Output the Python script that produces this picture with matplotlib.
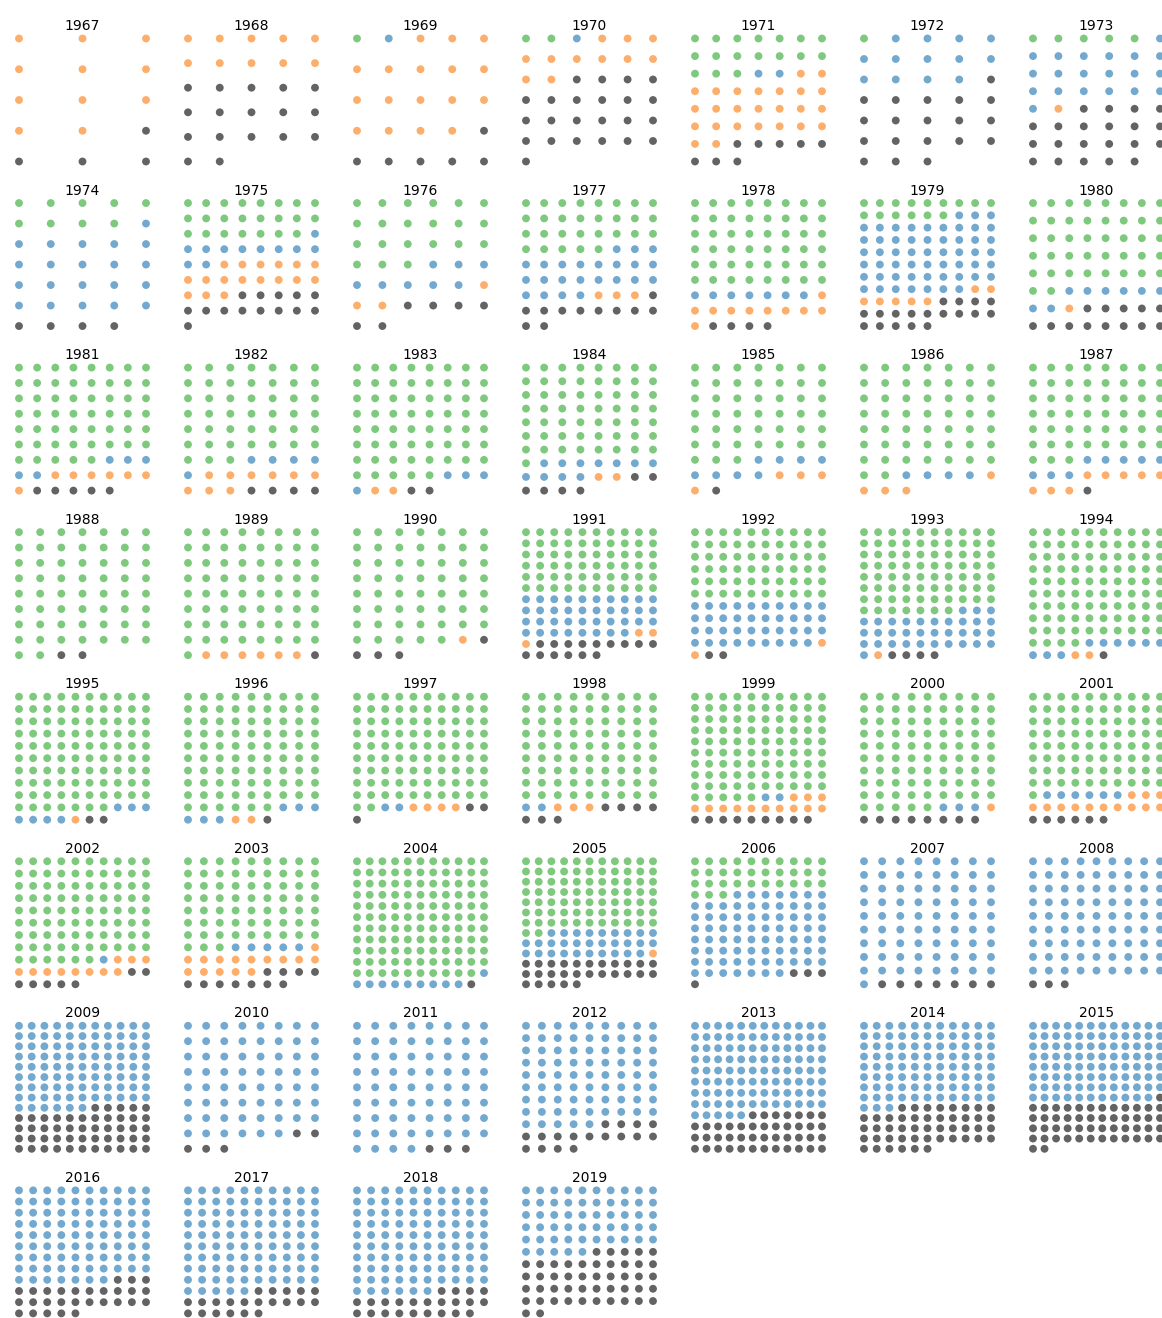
import math
import matplotlib
matplotlib.use("Agg")
import matplotlib.pyplot as plt

years = list(range(1967, 2020))
green = [0, 0, 1, 2, 17, 1, 5, 9, 23, 21, 29, 48, 15, 42,
         53, 45, 61, 57, 45, 51, 51, 58, 65, 54, 60, 60, 77, 94,
         97, 87, 92, 81, 95, 86, 81, 86, 66, 120, 79, 33, 0, 0,
         0, 0, 0, 0, 0, 0, 0, 0, 0, 0, 0]
blue = [0, 0, 1, 1, 2, 13, 20, 21, 11, 8, 23, 7, 55, 8,
        5, 5, 4, 11, 8, 4, 8, 0, 0, 0, 38, 39, 34, 9,
        7, 6, 2, 2, 2, 3, 6, 1, 5, 10, 30, 74, 73, 81,
        94, 62, 68, 77, 101, 91, 95, 87, 95, 96, 55]
orange = [11, 10, 17, 11, 25, 0, 1, 0, 17, 3, 3, 10, 7, 1,
          7, 9, 2, 2, 4, 4, 8, 0, 6, 1, 3, 2, 1, 2,
          1, 2, 4, 3, 13, 1, 13, 11, 15, 0, 1, 0, 0, 0,
          0, 0, 0, 0, 0, 0, 0, 0, 0, 0, 0]
gray = [4, 17, 6, 23, 8, 19, 21, 4, 14, 6, 11, 4, 18, 13,
        5, 4, 2, 6, 1, 0, 1, 2, 1, 4, 15, 2, 4, 1,
        2, 1, 3, 7, 9, 8, 6, 7, 11, 1, 27, 4, 7, 3,
        49, 5, 3, 17, 43, 47, 51, 28, 21, 23, 47]

colors = ["#7fc97f", "#74a9cf", "#fdae6b", "#636363"]

W, H = 1162, 1318
fig = plt.figure(figsize=(W / 100, H / 100), dpi=100)

for i, year in enumerate(years):
    r, c = divmod(i, 7)
    counts = [green[i], blue[i], orange[i], gray[i]]
    n = sum(counts)
    ncols = int(math.isqrt(n))
    nrows = math.ceil(n / ncols)

    # fill the grid row by row from the top, one colour after another
    dot_colors = []
    for col, k in zip(colors, counts):
        dot_colors += [col] * k
    xs = [j % ncols for j in range(n)]
    ys = [j // ncols for j in range(n)]

    left = 19 + 169 * c
    top = 38.5 + 164.55 * r
    ax = fig.add_axes([left / W, 1 - (top + 123) / H, 127 / W, 123 / H])
    ax.scatter(xs, ys, c=dot_colors, s=32, linewidths=0, clip_on=False)
    ax.set_xlim(0, ncols - 1)
    ax.set_ylim(nrows - 1, 0)
    ax.axis("off")
    ax.set_title(str(year), fontsize=10, pad=6)

fig.savefig("out.png", dpi=100)
